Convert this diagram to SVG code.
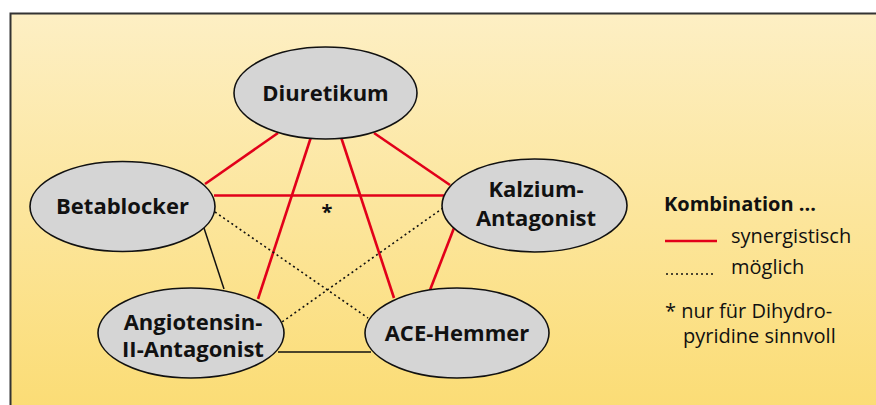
<svg xmlns="http://www.w3.org/2000/svg" width="876" height="405" viewBox="0 0 876 405">
<defs>
<linearGradient id="bg" x1="0" y1="0" x2="0" y2="1">
<stop offset="0" stop-color="#fdefc4"/>
<stop offset="1" stop-color="#fbdc74"/>
</linearGradient>
<style>
.node ellipse{fill:#d5d5d5;stroke:#111;stroke-width:1.6}
.node text{font-family:"Open Sans","Liberation Sans",sans-serif;font-weight:bold;font-size:22px;fill:#111;text-anchor:middle}
.syn{stroke:#e2001a;stroke-width:2.6;fill:none}
.sol{stroke:#111;stroke-width:1.5;fill:none}
.dot{stroke:#111;stroke-width:1.6;stroke-dasharray:2 3;fill:none}
.leg{font-family:"Open Sans","Liberation Sans",sans-serif;font-size:20px;fill:#111}
</style>
</defs>
<rect x="10.5" y="13.5" width="880" height="400" fill="url(#bg)" stroke="#333" stroke-width="2"/>
<g id="connectors">
<line class="syn" x1="278" y1="133" x2="205" y2="184"/>
<line class="syn" x1="374" y1="133" x2="450" y2="185"/>
<line class="syn" x1="311" y1="137" x2="258" y2="299"/>
<line class="syn" x1="341" y1="137" x2="394" y2="298"/>
<line class="syn" x1="214" y1="195.5" x2="445" y2="195.5"/>
<line class="syn" x1="454" y1="228" x2="430" y2="290"/>
<line class="sol" x1="203" y1="225" x2="224" y2="289"/>
<line class="sol" x1="278" y1="352" x2="371" y2="352"/>
<line class="dot" x1="215" y1="212" x2="368" y2="318"/>
<line class="dot" x1="443" y1="208" x2="282" y2="322"/>
</g>
<g id="diuretikum" class="node">
<ellipse cx="325.5" cy="93" rx="91.5" ry="46"/>
<text x="325.5" y="101">Diuretikum</text>
</g>
<g id="betablocker" class="node">
<ellipse cx="122.5" cy="206.5" rx="92.5" ry="45"/>
<text x="122.5" y="214">Betablocker</text>
</g>
<g id="kalzium" class="node">
<ellipse cx="534.5" cy="205.5" rx="92.5" ry="46.5"/>
<text x="536" y="197">Kalzium-</text>
<text x="536" y="226">Antagonist</text>
</g>
<g id="angiotensin" class="node">
<ellipse cx="191" cy="333" rx="93" ry="45"/>
<text x="193" y="330">Angiotensin-</text>
<text x="193" y="357">II-Antagonist</text>
</g>
<g id="ace" class="node">
<ellipse cx="457" cy="333" rx="92" ry="45"/>
<text x="457" y="341">ACE-Hemmer</text>
</g>
<text x="327" y="219" style="font-family:'Open Sans','Liberation Sans',sans-serif;font-weight:bold;font-size:20px;fill:#111" text-anchor="middle">*</text>
<g id="legend">
<text class="leg" x="664" y="211" font-weight="bold">Kombination ...</text>
<line class="syn" x1="665" y1="241" x2="717" y2="241"/>
<text class="leg" x="731" y="243">synergistisch</text>
<line class="dot" x1="666" y1="274" x2="716" y2="274" stroke-width="2" stroke-dasharray="2 3.4"/>
<text class="leg" x="731" y="274">möglich</text>
<text class="leg" x="665" y="318">* nur für Dihydro-</text>
<text class="leg" x="683" y="343">pyridine sinnvoll</text>
</g>
</svg>
